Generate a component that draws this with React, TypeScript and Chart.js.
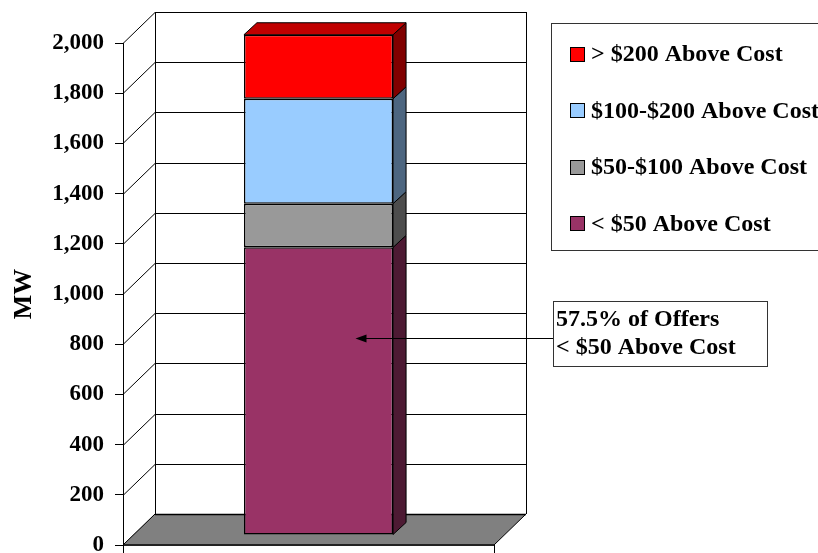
import React, { useEffect, useRef } from 'react';
import { Chart, registerables } from 'chart.js';

Chart.register(...registerables);

// ---- data ----
const categories = [''];
const seriesLabels = ['< $50 Above Cost', '$50-$100 Above Cost', '$100-$200 Above Cost', '> $200 Above Cost'];
const below50 = [1146];
const from50to100 = [174];
const from100to200 = [418];
const above200 = [255];
const yMin = 0;
const yMax = 2000;
const yStep = 200;
const axisTitle = 'MW';
const annotationLines = ['57.5% of Offers', '< $50 Above Cost'];
const annotationValue = 785;

// ---- styles ----
const frontColors = ['#993366', '#999999', '#99CCFF', '#FF0000'];
const sideColors = ['#4D1A33', '#4D4D4D', '#4D6680', '#800000'];
const topColor = '#C00000';
const FONT = '"Liberation Serif", "Times New Roman", serif';
const WALL = { dx: 32, dy: -31 };
const PLANE = { dx: 10, dy: -10 };
const DEPTH = { dx: 13, dy: -12 };

const scenePlugin = {
  id: 'scene3d',
  beforeDraw(chart: any) {
    const { ctx, chartArea: a, scales } = chart;
    const y = scales.y;
    const L = a.left, R = a.right, T = a.top, B = a.bottom;
    ctx.save();
    ctx.fillStyle = '#ffffff';
    ctx.fillRect(L + WALL.dx, T + WALL.dy, R - L, B - T);
    ctx.lineWidth = 1;
    ctx.strokeStyle = '#000000';
    for (let v = yMin; v <= yMax; v += yStep) {
      const yy = Math.round(y.getPixelForValue(v)) + 0.5;
      ctx.beginPath();
      ctx.moveTo(L + WALL.dx, yy + WALL.dy);
      ctx.lineTo(R + WALL.dx, yy + WALL.dy);
      ctx.stroke();
      ctx.beginPath();
      ctx.moveTo(L, yy);
      ctx.lineTo(L + WALL.dx, yy + WALL.dy);
      ctx.stroke();
    }
    ctx.beginPath();
    ctx.moveTo(L + WALL.dx + 0.5, T + WALL.dy);
    ctx.lineTo(L + WALL.dx + 0.5, B + WALL.dy);
    ctx.moveTo(R + WALL.dx + 0.5, T + WALL.dy);
    ctx.lineTo(R + WALL.dx + 0.5, B + WALL.dy);
    ctx.stroke();
    ctx.fillStyle = '#808080';
    ctx.beginPath();
    ctx.moveTo(L, B);
    ctx.lineTo(R, B);
    ctx.lineTo(R + WALL.dx, B + WALL.dy);
    ctx.lineTo(L + WALL.dx, B + WALL.dy);
    ctx.closePath();
    ctx.fill();
    ctx.beginPath();
    ctx.moveTo(L, B);
    ctx.lineTo(L + WALL.dx, B + WALL.dy);
    ctx.moveTo(R, B);
    ctx.lineTo(R + WALL.dx, B + WALL.dy);
    ctx.stroke();
    ctx.lineWidth = 1.5;
    ctx.beginPath();
    ctx.moveTo(L + WALL.dx, B + WALL.dy + 0.5);
    ctx.lineTo(R + WALL.dx, B + WALL.dy + 0.5);
    ctx.stroke();
    ctx.strokeStyle = '#222222';
    ctx.lineWidth = 2;
    ctx.beginPath();
    ctx.moveTo(L, B);
    ctx.lineTo(R, B);
    ctx.stroke();
    ctx.restore();
  },
  beforeDatasetsDraw(chart: any) {
    chart.ctx.save();
    chart.ctx.translate(PLANE.dx, PLANE.dy);
  },
  afterDatasetsDraw(chart: any) {
    const { ctx } = chart;
    const n = chart.data.datasets.length;
    ctx.lineWidth = 1;
    ctx.strokeStyle = '#000000';
    for (let i = 0; i < n; i++) {
      const el = chart.getDatasetMeta(i).data[0];
      if (!el) continue;
      const { x, y, base, width } = el.getProps(['x', 'y', 'base', 'width'], true);
      const x1 = x + width / 2;
      const x0 = x - width / 2;
      ctx.fillStyle = sideColors[i];
      ctx.beginPath();
      ctx.moveTo(x1, y);
      ctx.lineTo(x1 + DEPTH.dx, y + DEPTH.dy);
      ctx.lineTo(x1 + DEPTH.dx, base + DEPTH.dy);
      ctx.lineTo(x1, base);
      ctx.closePath();
      ctx.fill();
      ctx.stroke();
      if (i === n - 1) {
        ctx.fillStyle = topColor;
        ctx.beginPath();
        ctx.moveTo(x0, y);
        ctx.lineTo(x1, y);
        ctx.lineTo(x1 + DEPTH.dx, y + DEPTH.dy);
        ctx.lineTo(x0 + DEPTH.dx, y + DEPTH.dy);
        ctx.closePath();
        ctx.fill();
        ctx.stroke();
      }
    }
    ctx.restore();
  },
  afterDraw(chart: any) {
    const { ctx, chartArea: a, scales } = chart;
    const y = scales.y;
    ctx.save();
    ctx.strokeStyle = '#000000';
    ctx.lineWidth = 1;
    ctx.beginPath();
    ctx.moveTo(a.left + 0.5, a.bottom);
    ctx.lineTo(a.left + 0.5, a.bottom + 8);
    ctx.moveTo(a.right + 0.5, a.bottom);
    ctx.lineTo(a.right + 0.5, a.bottom + 8);
    ctx.stroke();

    // legend
    ctx.fillStyle = '#ffffff';
    ctx.fillRect(551, 23, 300, 227);
    ctx.strokeStyle = '#333333';
    ctx.strokeRect(551.5, 23.5, 300, 227);
    ctx.font = `bold 24px ${FONT}`;
    ctx.textBaseline = 'alphabetic';
    ctx.textAlign = 'left';
    const n = chart.data.datasets.length;
    for (let k = 0; k < n; k++) {
      const i = n - 1 - k;
      const cy = 53.5 + k * 56.5;
      ctx.fillStyle = frontColors[i];
      ctx.fillRect(570, Math.round(cy - 7), 15, 15);
      ctx.strokeStyle = '#000000';
      ctx.strokeRect(570.5, Math.round(cy - 7) + 0.5, 14, 14);
      ctx.fillStyle = '#000000';
      ctx.fillText(chart.data.datasets[i].label, 591, cy + 7.5);
    }

    // annotation
    ctx.fillStyle = '#ffffff';
    ctx.fillRect(553, 301, 214, 65);
    ctx.strokeStyle = '#333333';
    ctx.strokeRect(553.5, 301.5, 214, 65);
    ctx.fillStyle = '#000000';
    ctx.fillText(annotationLines[0], 556, 326);
    ctx.fillText(annotationLines[1], 556, 354);
    const ay = Math.round(y.getPixelForValue(annotationValue) + PLANE.dy) + 0.5;
    const meta = chart.getDatasetMeta(0).data[0];
    const ax = meta.x + PLANE.dx + 37;
    ctx.strokeStyle = '#000000';
    ctx.beginPath();
    ctx.moveTo(553, ay);
    ctx.lineTo(ax + 8, ay);
    ctx.stroke();
    ctx.beginPath();
    ctx.moveTo(ax, ay);
    ctx.lineTo(ax + 11, ay - 4);
    ctx.lineTo(ax + 11, ay + 4);
    ctx.closePath();
    ctx.fill();
    ctx.restore();
  },
};

export default function App() {
  const ref = useRef<HTMLCanvasElement | null>(null);
  useEffect(() => {
    if (!ref.current) return;
    const chart = new Chart(ref.current, {
      type: 'bar',
      data: {
        labels: categories,
        datasets: [
          { label: seriesLabels[0], data: below50, backgroundColor: frontColors[0] },
          { label: seriesLabels[1], data: from50to100, backgroundColor: frontColors[1] },
          { label: seriesLabels[2], data: from100to200, backgroundColor: frontColors[2] },
          { label: seriesLabels[3], data: above200, backgroundColor: frontColors[3] },
        ].map((d) => ({
          ...d,
          borderColor: '#000000',
          borderWidth: 1.5,
          borderSkipped: false,
          barPercentage: 0.402,
          categoryPercentage: 1,
          clip: false,
        })),
      },
      options: {
        responsive: false,
        devicePixelRatio: 1,
        animation: false,
        layout: { padding: { top: 43, bottom: 8, left: 0, right: 324 } },
        plugins: { legend: { display: false }, tooltip: { enabled: false } },
        scales: {
          x: { stacked: true, display: false },
          y: {
            stacked: true,
            min: yMin,
            max: yMax,
            position: 'left',
            afterFit(scale: any) {
              scale.width = 123;
              scale.paddingTop = 0;
              scale.paddingBottom = 0;
            },
            ticks: {
              stepSize: yStep,
              padding: 11,
              color: '#000000',
              font: { family: FONT, size: 23, weight: 'bold' },
              callback: (v: any) => Number(v).toLocaleString('en-US'),
            },
            grid: { drawOnChartArea: false, drawTicks: true, tickLength: 8, color: '#000000' },
            border: { display: true, color: '#000000', width: 1 },
            title: {
              display: true,
              text: axisTitle,
              color: '#000000',
              font: { family: FONT, size: 26, weight: 'bold' },
              padding: { top: 9, bottom: 0 },
            },
          },
        },
      },
      plugins: [scenePlugin],
    } as any);
    return () => chart.destroy();
  }, []);
  return (
    <div style={{ position: 'fixed', left: 0, top: 0, width: 818, height: 553, background: '#fff' }}>
      <canvas ref={ref} width={818} height={553} style={{ display: 'block' }} />
    </div>
  );
}
